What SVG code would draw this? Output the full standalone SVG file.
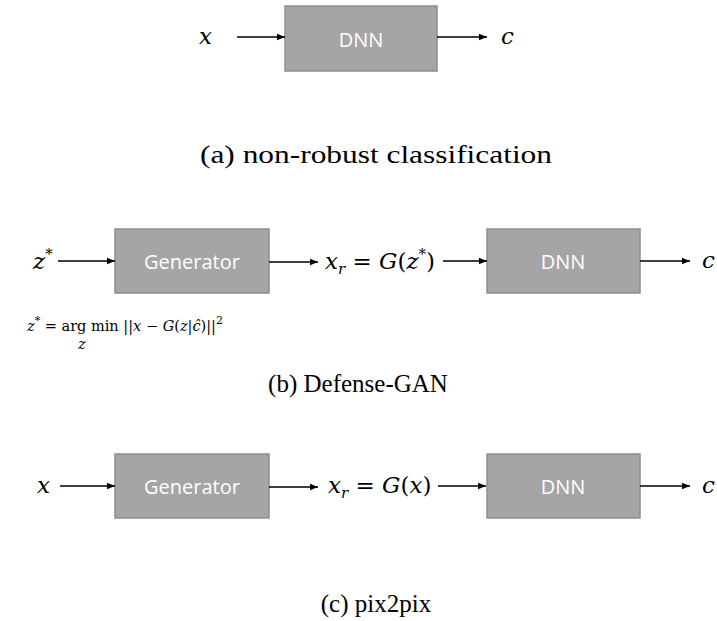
<svg xmlns="http://www.w3.org/2000/svg" width="717" height="621" viewBox="0 0 717 621">
<defs>
<marker id="ah" viewBox="0 0 10 10" refX="10" refY="5" markerWidth="8" markerHeight="8" markerUnits="userSpaceOnUse" orient="auto">
<path d="M0,1 L10,5 L0,9 z" fill="#000"/>
</marker>
<style>
.box{fill:#a5a5a5;stroke:#8e8e8e;stroke-width:1.5}
.bt{font-family:"Open Sans","Liberation Sans",sans-serif;font-size:20px;fill:#fff;text-anchor:middle;dominant-baseline:central}
.m{font-family:"DejaVu Serif","Liberation Serif",serif;font-size:23px;fill:#000;font-style:italic}
.n{font-style:normal}
.f{font-family:"DejaVu Serif","Liberation Serif",serif;font-size:14.5px;fill:#000}
.cap{font-family:"Liberation Serif","DejaVu Serif",serif;font-size:25px;fill:#000;text-anchor:middle}
.c line{stroke:#000;stroke-width:1.5;marker-end:url(#ah)}
</style>
</defs>
<rect width="717" height="621" fill="#fff"/>

<!-- (a) -->
<g id="a-dnn"><rect class="box" x="285" y="6" width="152" height="65"/><text class="bt" x="361" y="39">DNN</text></g>
<g id="a-x"><text class="m" x="199" y="44">x</text></g>
<g id="a-c"><text class="m" x="501" y="44">c</text></g>
<g id="a-cap"><text class="cap" x="376" y="163" textLength="352" lengthAdjust="spacingAndGlyphs">(a) non-robust classification</text></g>

<!-- (b) -->
<g id="b-zs"><text class="m" x="33" y="269">z<tspan class="n" font-size="15" dy="-10">*</tspan></text></g>
<g id="b-gen"><rect class="box" x="115" y="229" width="154" height="64"/><text class="bt" x="192" y="261">Generator</text></g>
<g id="b-xr"><text class="m" x="325" y="269">x<tspan font-size="15" dy="5">r</tspan><tspan class="n" dy="-5"> = </tspan>G<tspan class="n">(</tspan>z<tspan class="n" font-size="15" dy="-10">*</tspan><tspan class="n" dy="10">)</tspan></text></g>
<g id="b-dnn"><rect class="box" x="487" y="229" width="153" height="64"/><text class="bt" x="563" y="261">DNN</text></g>
<g id="b-c"><text class="m" x="702" y="268">c</text></g>
<g id="b-formula"><text class="f" x="27" y="331"><tspan font-style="italic">z</tspan><tspan font-size="11" dy="-7">*</tspan><tspan dy="7"> = arg min ||</tspan><tspan font-style="italic">x</tspan> − <tspan font-style="italic">G</tspan>(<tspan font-style="italic">z</tspan>|<tspan font-style="italic">ĉ</tspan>)||<tspan font-size="11" dy="-7">2</tspan></text><text class="f" x="78" y="349" font-style="italic" font-size="13">z</text></g>
<g id="b-cap"><text class="cap" x="358" y="392">(b) Defense-GAN</text></g>

<!-- (c) -->
<g id="c-x"><text class="m" x="37" y="493">x</text></g>
<g id="c-gen"><rect class="box" x="115" y="454" width="154" height="64"/><text class="bt" x="192" y="486">Generator</text></g>
<g id="c-xr"><text class="m" x="328" y="493">x<tspan font-size="15" dy="5">r</tspan><tspan class="n" dy="-5"> = </tspan>G<tspan class="n">(</tspan>x<tspan class="n">)</tspan></text></g>
<g id="c-dnn"><rect class="box" x="487" y="454" width="153" height="64"/><text class="bt" x="563" y="486">DNN</text></g>
<g id="c-c"><text class="m" x="702" y="493">c</text></g>
<g id="c-cap"><text class="cap" x="376" y="612">(c) pix2pix</text></g>

<g class="c" id="connectors">
<line x1="237" y1="37" x2="285" y2="37"/>
<line x1="437" y1="37" x2="487" y2="37"/>
<line x1="58" y1="261" x2="115" y2="261"/>
<line x1="269" y1="262" x2="318" y2="262"/>
<line x1="443" y1="261" x2="487" y2="261"/>
<line x1="640" y1="261" x2="690" y2="261"/>
<line x1="60" y1="486" x2="115" y2="486"/>
<line x1="269" y1="487" x2="318" y2="487"/>
<line x1="438" y1="486" x2="486" y2="486"/>
<line x1="640" y1="486" x2="690" y2="486"/>
</g>
</svg>
